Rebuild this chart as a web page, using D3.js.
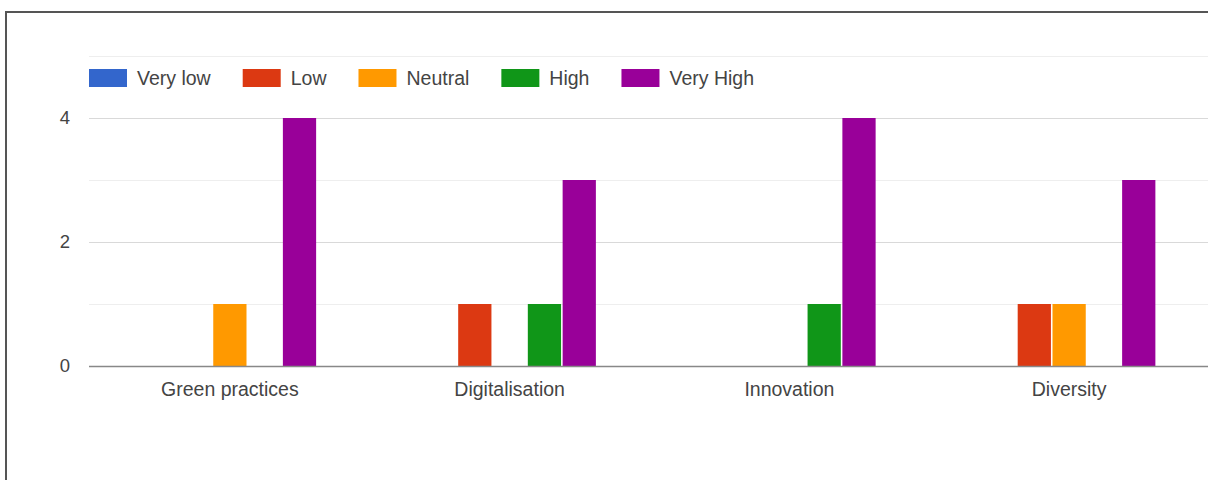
<!DOCTYPE html>
<html>
<head>
<meta charset="utf-8">
<script src="https://cdn.jsdelivr.net/npm/d3@7"></script>
<style>
  body { margin: 0; background: #fff; }
  svg { display: block; font-family: Arial, "Liberation Sans", sans-serif; }
</style>
</head>
<body>
<svg id="chart" width="1208" height="480"></svg>
<script>
// chart data
const categories = ["Green practices", "Digitalisation", "Innovation", "Diversity"]
const seriesNames = ["Very low", "Low", "Neutral", "High", "Very High"]
const seriesColors = ["#3366cc", "#dc3912", "#ff9900", "#109618", "#990099"]
const veryLow = [0, 0, 0, 0]
const low = [0, 1, 0, 1]
const neutral = [1, 0, 0, 1]
const high = [0, 1, 1, 0]
const veryHigh = [4, 3, 4, 3]
const majorTicks = [0, 2, 4]
const minorTicks = [1, 3, 5]

const series = [veryLow, low, neutral, high, veryHigh]

const width = 1208
const height = 480
const margin = ({top: 56, right: -1, bottom: 114, left: 90})

const svg = d3.select("#chart")

// outer frame
svg.append("rect")
    .attr("x", 6)
    .attr("y", 12)
    .attr("width", 1300)
    .attr("height", 600)
    .attr("fill", "none")
    .attr("stroke", "#555")
    .attr("stroke-width", 2)

const x0 = d3.scaleBand()
    .domain(categories)
    .range([margin.left, width - margin.right])

const y = d3.scaleLinear()
    .domain([0, 5])
    .range([height - margin.bottom, margin.top])

const slot = 34.5
const x1 = d3.scaleBand()
    .domain(seriesNames)
    .range([-slot * 2.5, slot * 2.5])
    .paddingInner(0.045)

// gridlines
svg.append("g")
  .selectAll("line")
  .data(minorTicks)
  .join("line")
    .attr("x1", 89)
    .attr("x2", width)
    .attr("y1", d => Math.round(y(d)) + 0.5)
    .attr("y2", d => Math.round(y(d)) + 0.5)
    .attr("stroke", "#eeeeee")

svg.append("g")
  .selectAll("line")
  .data(majorTicks.filter(d => d > 0))
  .join("line")
    .attr("x1", 89)
    .attr("x2", width)
    .attr("y1", d => Math.round(y(d)) + 0.5)
    .attr("y2", d => Math.round(y(d)) + 0.5)
    .attr("stroke", "#d9d9d9")

// y tick labels
svg.append("g")
  .selectAll("text")
  .data(majorTicks)
  .join("text")
    .attr("x", 70)
    .attr("y", d => y(d))
    .attr("dy", "0.35em")
    .attr("text-anchor", "end")
    .attr("fill", "#444")
    .attr("font-size", 18.5)
    .text(d => d)

// bars
const groups = svg.append("g")
  .selectAll("g")
  .data(categories)
  .join("g")
    .attr("transform", d => `translate(${x0(d) + x0.bandwidth() / 2},0)`)

groups.selectAll("rect")
  .data((c, i) => series.map((s, j) => ({name: seriesNames[j], value: s[i], color: seriesColors[j]})).filter(d => d.value > 0))
  .join("rect")
    .attr("x", d => x1(d.name))
    .attr("width", x1.bandwidth())
    .attr("y", d => y(d.value))
    .attr("height", d => y(0) - y(d.value))
    .attr("fill", d => d.color)

// baseline
svg.append("line")
    .attr("x1", 89)
    .attr("x2", width)
    .attr("y1", y(0) + 0.5)
    .attr("y2", y(0) + 0.5)
    .attr("stroke", "#888")
    .attr("stroke-width", 1.5)

// x labels
const xAxis = g => g
    .attr("transform", `translate(0,${y(0)})`)
    .call(d3.axisBottom(x0).tickSize(0).tickPadding(16))
    .call(g => g.select(".domain").remove())
    .call(g => g.selectAll("text")
        .attr("fill", "#444")
        .attr("font-size", 19.5)
        .attr("font-family", "Arial, 'Liberation Sans', sans-serif"))

svg.append("g").call(xAxis)

// legend
const legend = svg.append("g")
let lx = 89
seriesNames.forEach((name, i) => {
  legend.append("rect")
      .attr("x", lx)
      .attr("y", 69)
      .attr("width", 38)
      .attr("height", 18)
      .attr("fill", seriesColors[i])
  const t = legend.append("text")
      .attr("x", lx + 48)
      .attr("y", 78)
      .attr("dy", "0.35em")
      .attr("fill", "#444")
      .attr("font-size", 19.5)
      .text(name)
  lx += 48 + t.node().getComputedTextLength() + 32
})
</script>
</body>
</html>
